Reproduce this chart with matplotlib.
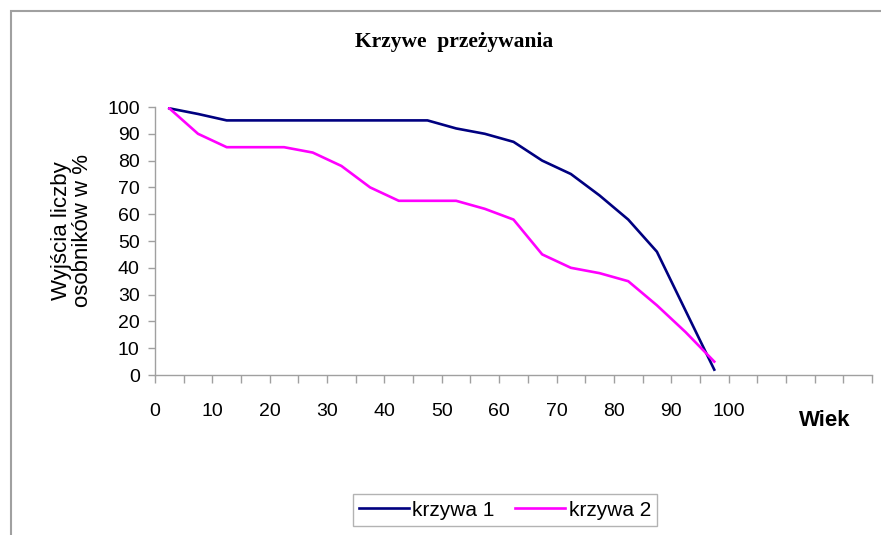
import matplotlib.pyplot as plt
from matplotlib.patches import Rectangle
from matplotlib.ticker import FixedLocator, FuncFormatter

# age classes (midpoints of 5-year classes) and survivorship in %
wiek = [2.5, 7.5, 12.5, 17.5, 22.5, 27.5, 32.5, 37.5, 42.5, 47.5,
        52.5, 57.5, 62.5, 67.5, 72.5, 77.5, 82.5, 87.5, 92.5, 97.5]
krzywa1 = [99.5, 97.4, 95, 95, 95, 95, 95, 95, 95, 95,
           92, 90, 87, 80, 75, 67, 58, 46, 24, 2]
krzywa2 = [99.5, 90, 85, 85, 85, 83, 78, 70, 65, 65,
           65, 62, 58, 45, 40, 38, 35, 26, 16, 5]
x_labels = [0, 10, 20, 30, 40, 50, 60, 70, 80, 90, 100]

plt.rcParams['font.family'] = ['Liberation Sans', 'DejaVu Sans']
grey = '#a0a0a0'

fig = plt.figure(figsize=(8.81, 5.35), dpi=100)
ax = fig.add_axes([155 / 881, 1 - 375 / 535, 717 / 881, 268 / 535])

ax.plot(wiek, krzywa1, color='#000080', lw=1.9, label='krzywa 1')
ax.plot(wiek, krzywa2, color='#ff00ff', lw=1.9, label='krzywa 2')

ax.set_xlim(0, 125)
ax.set_ylim(0, 100)

for s in ['top', 'right']:
    ax.spines[s].set_visible(False)
for s in ['left', 'bottom']:
    ax.spines[s].set_color(grey)
    ax.spines[s].set_linewidth(1.0)

ax.xaxis.set_major_locator(FixedLocator(range(0, 126, 5)))
ax.xaxis.set_major_formatter(FuncFormatter(
    lambda v, p: str(int(round(v))) if round(v) in x_labels else ''))
ax.set_yticks(range(0, 101, 10))
ax.tick_params(axis='x', direction='out', length=6, color=grey, width=1.0,
               labelsize=14, pad=14)
ax.tick_params(axis='y', direction='out', length=5, color=grey, width=1.0,
               labelsize=14, pad=6)

ax.set_ylabel('Wyjścia liczby\nosobników w %', fontsize=16, linespacing=1.05)
ax.yaxis.set_label_coords(-0.086, 0.54)
fig.text(825 / 881, 1 - 420 / 535, 'Wiek', fontsize=16, fontweight='bold',
         ha='center', va='center')
fig.text(454 / 881, 1 - 42 / 535, 'Krzywe  przeżywania', fontsize=15.5,
         fontweight='bold', family='Liberation Serif', ha='center', va='center')

leg = fig.legend(loc='center', bbox_to_anchor=(505 / 881, 1 - 510 / 535),
                 ncol=2, fontsize=15, frameon=True, fancybox=False,
                 handlelength=2.4, handletextpad=0.15, columnspacing=1.0,
                 borderpad=0.3)
leg.get_frame().set_edgecolor(grey)
leg.get_frame().set_linewidth(1.0)

# outer chart frame (runs off the right and bottom edges)
fig.patches.append(Rectangle((10.5 / 881, -0.1), 1.2, 1 - 11 / 535 + 0.1,
                             transform=fig.transFigure, fill=False,
                             edgecolor=grey, lw=1.5))

fig.savefig('out.png', dpi=100)
